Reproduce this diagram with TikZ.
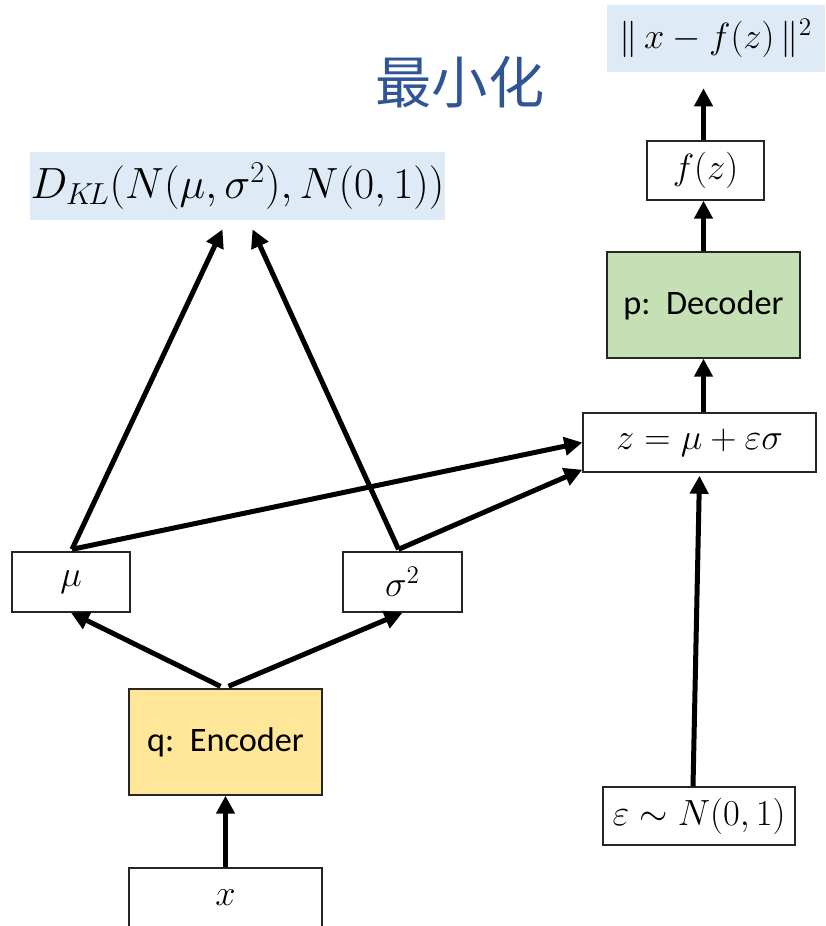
\documentclass[tikz,border=0pt]{standalone}
\usepackage{tikz}
\usetikzlibrary{arrows.meta,positioning,calc}
\usepackage{xcolor}
\usepackage{amsmath,amssymb}
\usepackage{fontspec}
\newfontfamily\cjkfont{Noto Sans CJK SC}
\newfontfamily\boxfont{Carlito}
\definecolor{LossBlue}{RGB}{222,235,247}
\definecolor{EncYellow}{RGB}{255,230,153}
\definecolor{DecGreen}{RGB}{197,224,180}
\definecolor{TitleBlue}{RGB}{47,85,151}
\tikzset{
  varbox/.style={draw=black!85,line width=0.8pt,fill=white,
    inner sep=0pt,align=center,font=\fontsize{22}{26}\selectfont},
  netbox/.style={draw=black!85,line width=0.8pt,inner sep=0pt,
    align=center,font=\boxfont\fontsize{19.5}{23}\selectfont},
  lossbox/.style={fill=LossBlue,inner sep=0pt,align=center,
    font=\fontsize{22}{26}\selectfont},
  flowarrow/.style={-{Triangle[length=0.36cm,width=0.36cm]},
    line width=0.1cm,draw=black},
}

\begin{document}
\begin{tikzpicture}[x=0.02cm,y=-0.02cm]
  \useasboundingbox (0,0) rectangle (825,926);
  % loss terms
  \node[lossbox,minimum width=8.3cm,minimum height=1.36cm,font=\fontsize{24}{28}\selectfont] (kl) at (237.5,186)
    {$D_{K\!L}(N(\mu,\sigma^2),N(0,1))$};
  \node[lossbox,minimum width=4.36cm,minimum height=1.34cm] (rec) at (716,38.5)
    {$\|\,x-f(z)\,\|^2$};
  \node[font=\cjkfont\fontsize{32}{36}\selectfont,text=TitleBlue] (title) at (460,82) {最小化};
  % encoder side
  \node[varbox,minimum width=3.86cm,minimum height=1.2cm] (xin) at (225.5,898) {$x$};
  \node[netbox,fill=EncYellow,minimum width=3.86cm,minimum height=2.12cm] (enc) at (225.5,742) {q:\ \ Encoder};
  \node[varbox,minimum width=2.36cm,minimum height=1.2cm] (mu) at (71,582) {$\mu$};
  \node[varbox,minimum width=2.38cm,minimum height=1.2cm] (sig) at (402.5,582) {$\sigma^2$};
  % decoder side
  \node[varbox,minimum width=3.84cm,minimum height=1.16cm] (eps) at (699,816) {$\varepsilon\sim N(0,1)$};
  \node[varbox,minimum width=4.66cm,minimum height=1.18cm] (z) at (699.5,442.5) {$z=\mu+\varepsilon\sigma$};
  \node[netbox,fill=DecGreen,minimum width=3.86cm,minimum height=2.12cm] (dec) at (703.5,305) {p:\ \ Decoder};
  \node[varbox,minimum width=2.34cm,minimum height=1.18cm] (fz) at (705.5,170.5) {$f(z)$};
  % arrows
  \draw[flowarrow] (xin.north) -- (enc.south);
  \draw[flowarrow] ([shift={(-5,-2)}]enc.north) -- (mu.south);
  \draw[flowarrow] ([shift={(3,-2)}]enc.north) -- (sig.south);
  \draw[flowarrow] ([shift={(1,-2)}]mu.north) -- ([shift={(-15,9)}]kl.south);
  \draw[flowarrow] ([shift={(-4,-2)}]sig.north) -- ([shift={(15,9)}]kl.south);
  \draw[flowarrow] ([shift={(1,-2)}]mu.north) -- (z.west);
  \draw[flowarrow] ([shift={(-4,-2)}]sig.north) -- ([shift={(0,-3)}]z.south west);
  \draw[flowarrow] ([shift={(-6,0)}]eps.north) -- ([shift={(0,3)}]z.south);
  \draw[flowarrow] ([shift={(4,0)}]z.north) -- (dec.south);
  \draw[flowarrow] (dec.north) -- (fz.south -| dec.north);
  \draw[flowarrow] (fz.north -| dec.north) -- ($(rec.south -| dec.north)+(0,16)$);
\end{tikzpicture}
\end{document}
